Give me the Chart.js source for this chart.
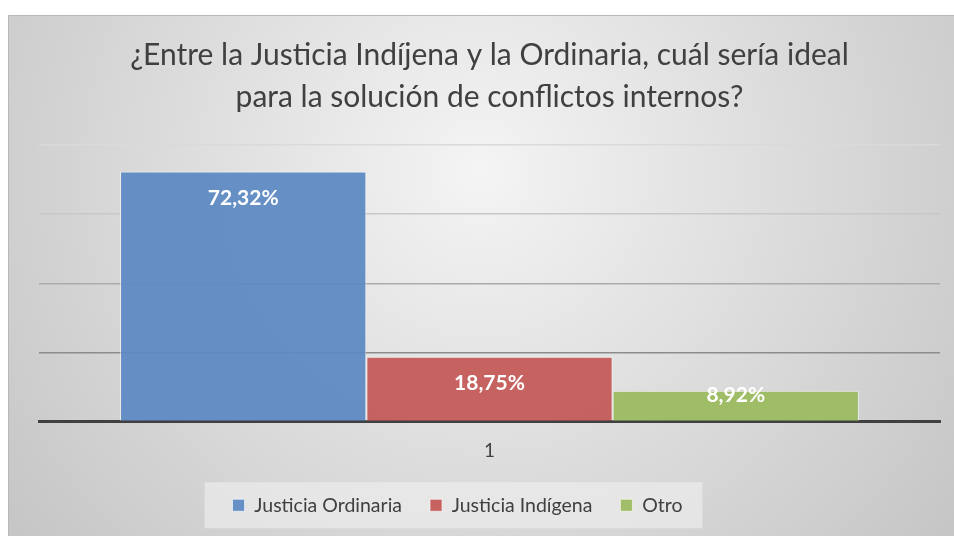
<!DOCTYPE html>
<html>
<head>
<meta charset="utf-8">
<script src="https://cdn.jsdelivr.net/npm/chart.js@4.4.1/dist/chart.umd.min.js"></script>
<style>
  html, body { margin: 0; padding: 0; background: #fff; }
  #wrap { width: 954px; height: 536px; }
</style>
</head>
<body>
<div id="wrap"><canvas id="chart"></canvas></div>
<script>
const categories = ["1"];
const seriesNames = ["Justicia Ordinaria", "Justicia Indígena", "Otro"];
const seriesValues = [[72.32], [18.75], [8.92]];
const seriesColors = ["rgba(92,137,194,0.94)", "rgba(196,90,88,0.94)", "rgba(155,187,95,0.94)"];
const yTicks = [0, 20, 40, 60, 80];

const FONT = "Lato";
const LEGEND_FONT = 19.5;
const LEGEND_PAD = 28;
const LEGEND_BOX = 12;
const LEGEND_SHIFT = 32;

// fondo degradado tipo Excel
const backgroundPlugin = {
  id: "bg",
  afterLayout(chart) {
    // la leyenda del original está algo corrida a la izquierda
    chart.legend.left -= LEGEND_SHIFT;
    chart.legend.right -= LEGEND_SHIFT;
  },
  beforeDraw(chart) {
    const ctx = chart.ctx;
    ctx.save();
    ctx.fillStyle = "#fff";
    ctx.fillRect(0, 0, chart.width, chart.height);
    const g = ctx.createRadialGradient(480, 170, 0, 480, 170, 640);
    g.addColorStop(0, "#f4f4f4");
    g.addColorStop(1, "#c2c2c2");
    ctx.fillStyle = g;
    ctx.fillRect(8, 15, chart.width - 8, chart.height - 15);
    ctx.strokeStyle = "#b8b8b8";
    ctx.lineWidth = 1;
    ctx.beginPath();
    ctx.moveTo(8.5, chart.height);
    ctx.lineTo(8.5, 15.5);
    ctx.lineTo(chart.width, 15.5);
    ctx.stroke();

    // caja de la leyenda, calculada como la reparte Chart.js
    const lg = chart.legend;
    ctx.font = LEGEND_FONT + "px " + FONT;
    const widths = seriesNames.map(t => LEGEND_BOX + LEGEND_FONT / 2 + ctx.measureText(t).width);
    const lineW = widths.reduce((a, w) => a + w + LEGEND_PAD, 0);
    const content = lineW - LEGEND_PAD;
    const x0 = (lg.left + LEGEND_PAD + lg.right - lineW) / 2;
    const cy = lg.top + LEGEND_PAD + LEGEND_FONT / 2;
    ctx.fillStyle = "rgba(240,240,240,0.6)";
    ctx.fillRect(x0 - 28, cy - 23, content + 48, 46);
    ctx.restore();
  }
};

// etiquetas de valor dentro de las barras
const labelPlugin = {
  id: "valueLabels",
  afterDatasetsDraw(chart) {
    const ctx = chart.ctx;
    ctx.save();
    ctx.font = "bold 21px " + FONT;
    ctx.fillStyle = "#fff";
    ctx.textAlign = "center";
    ctx.textBaseline = "middle";
    chart.data.datasets.forEach((ds, i) => {
      chart.getDatasetMeta(i).data.forEach((bar, j) => {
        const y = Math.min(bar.y + 27, bar.base - 26);
        ctx.fillText(ds.data[j].toFixed(2).replace(".", ",") + "%", bar.x, y);
      });
    });
    ctx.restore();
  }
};

new Chart(document.getElementById("chart"), {
  type: "bar",
  data: {
    labels: categories,
    datasets: seriesNames.map((name, i) => ({
      label: name,
      data: seriesValues[i],
      backgroundColor: seriesColors[i],
      borderColor: "rgba(255,255,255,0.6)",
      borderWidth: 1,
      categoryPercentage: 0.82,
      barPercentage: 1
    }))
  },
  options: {
    responsive: true,
    maintainAspectRatio: false,
    animation: false,
    layout: { padding: { left: 39, right: 14, top: 15, bottom: 11 } },
    plugins: {
      title: {
        display: true,
        text: ["¿Entre la Justicia Indíjena y la Ordinaria, cuál sería ideal", "para la solución de conflictos internos?"],
        color: "#404040",
        font: { family: FONT, size: 30, weight: "normal", lineHeight: 1.4 },
        padding: { top: 19, bottom: 27 }
      },
      legend: {
        position: "bottom",
        labels: {
          color: "#404040",
          font: { family: FONT, size: LEGEND_FONT },
          boxWidth: LEGEND_BOX,
          boxHeight: LEGEND_BOX,
          padding: LEGEND_PAD
        }
      },
      tooltip: { enabled: false }
    },
    scales: {
      x: {
        grid: { display: false, drawTicks: false },
        border: { color: "#404040", width: 3 },
        ticks: { color: "#404040", font: { family: FONT, size: 19 }, padding: 18 },
        afterFit(scale) { scale.height = 46; }
      },
      y: {
        min: yTicks[0],
        max: yTicks[yTicks.length - 1],
        afterBuildTicks(scale) { scale.ticks = yTicks.map(v => ({ value: v })); },
        ticks: { display: false },
        border: { display: false },
        grid: {
          drawTicks: false,
          lineWidth: 1.5,
          color: (c) => ["#404040", "#8c8c8c", "#ababab", "#c8c8c8", "#dadada"][c.index]
        }
      }
    }
  },
  plugins: [backgroundPlugin, labelPlugin]
});
</script>
</body>
</html>
